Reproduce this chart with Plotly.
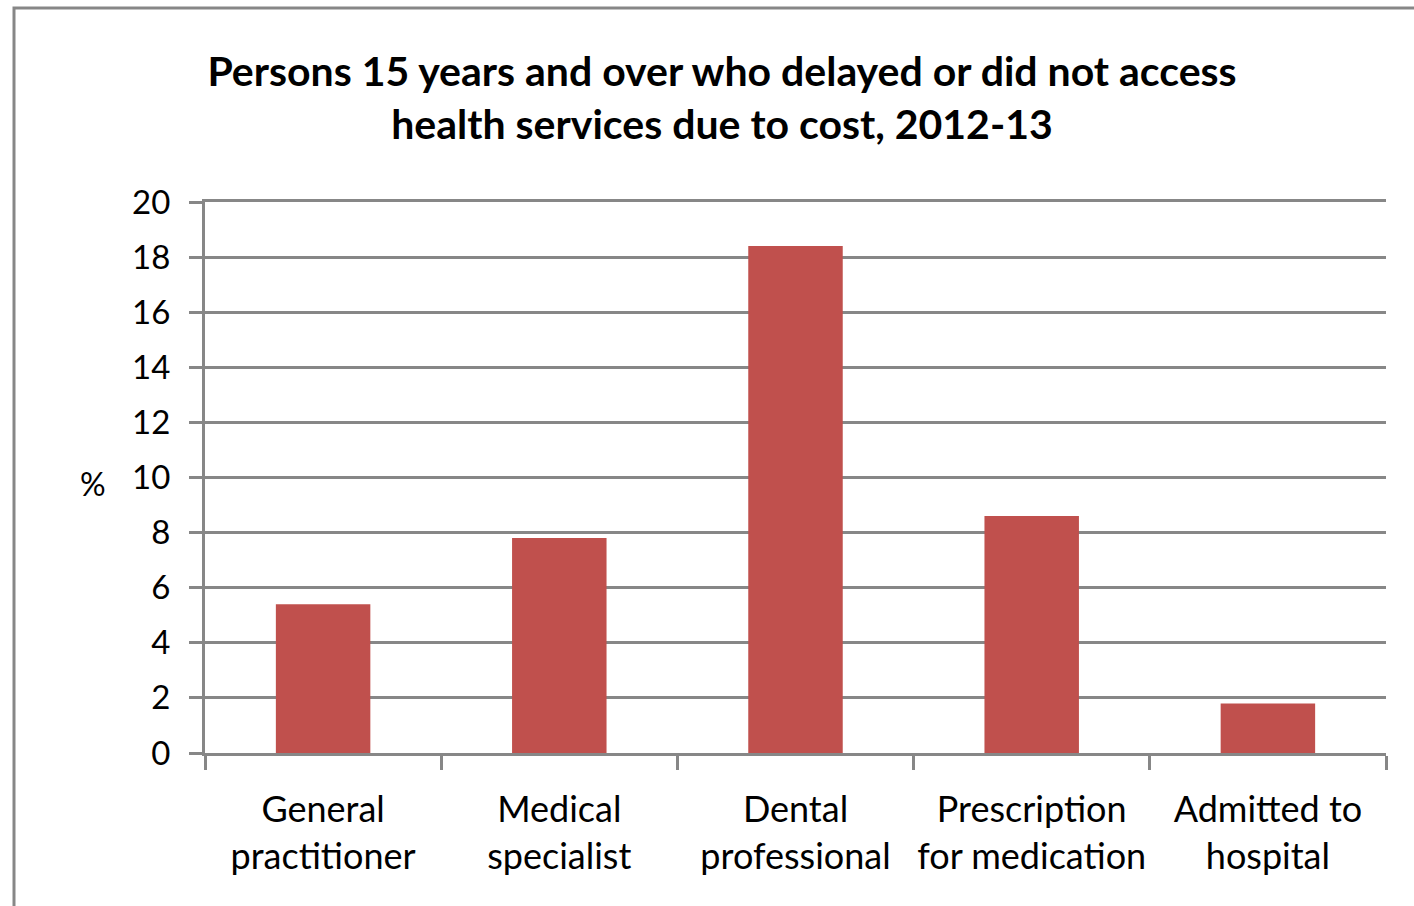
import plotly.graph_objects as go

# Share of persons aged 15+ who delayed or did not access a service due to cost (%)
categories = [
    "General<br>practitioner",
    "Medical<br>specialist",
    "Dental<br>professional",
    "Prescription<br>for medication",
    "Admitted to<br>hospital",
]
values = [5.4, 7.8, 18.4, 8.6, 1.8]
y_ticks = [0, 2, 4, 6, 8, 10, 12, 14, 16, 18, 20]

title_text = ("<b>Persons 15 years and over who delayed or did not access<br>"
              "health services due to cost, 2012-13</b>")

WIDTH, HEIGHT = 1414, 906
M_L, M_R, M_T, M_B = 205, 28, 202, 153
PLOT_W = WIDTH - M_L - M_R
PLOT_H = HEIGHT - M_T - M_B

GRID = "#878787"
BAR = "#C0504D"
FONT = "Lato"


def px_x(px):
    return (px - M_L) / PLOT_W


def px_y(py):
    return (HEIGHT - M_B - py) / PLOT_H


fig = go.Figure(
    go.Bar(
        x=categories,
        y=values,
        width=0.4,
        marker=dict(color=BAR, line=dict(width=0)),
        hoverinfo="x+y",
    )
)

fig.update_layout(
    width=WIDTH,
    height=HEIGHT,
    margin=dict(l=M_L, r=M_R, t=M_T, b=M_B, pad=0, autoexpand=False),
    paper_bgcolor="white",
    plot_bgcolor="white",
    showlegend=False,
    font=dict(family=FONT, color="black"),
    title=dict(
        text=title_text,
        font=dict(family=FONT, size=41, color="black"),
        x=722 / WIDTH,
        xanchor="center",
        y=1 - 86 / HEIGHT,
        yanchor="middle",
    ),
    xaxis=dict(
        range=[-0.5, 4.5],
        automargin=False,
        tickangle=0,
        showgrid=False,
        showline=True,
        mirror=True,
        linecolor=GRID,
        linewidth=3,
        ticks="outside",
        tickson="boundaries",
        ticklen=14,
        tickwidth=3,
        tickcolor=GRID,
        tickfont=dict(family=FONT, size=36, color="black"),
        ticklabelstandoff=23,
        zeroline=False,
    ),
    yaxis=dict(
        range=[0, 20],
        automargin=False,
        tickvals=y_ticks,
        showgrid=True,
        gridcolor=GRID,
        gridwidth=3,
        showline=True,
        linecolor=GRID,
        linewidth=3,
        ticks="outside",
        ticklen=13,
        tickwidth=3,
        tickcolor=GRID,
        tickfont=dict(family=FONT, size=33, color="black"),
        ticklabelstandoff=12,
        zeroline=False,
    ),
    annotations=[
        dict(
            text="%",
            xref="paper",
            yref="paper",
            x=px_x(93),
            y=px_y(483),
            xanchor="center",
            yanchor="middle",
            showarrow=False,
            font=dict(family=FONT, size=32, color="black"),
        )
    ],
    shapes=[
        dict(
            type="rect",
            xref="paper",
            yref="paper",
            x0=px_x(14),
            y0=px_y(8),
            x1=px_x(WIDTH + 20),
            y1=px_y(HEIGHT + 20),
            line=dict(color=GRID, width=3),
            fillcolor="rgba(0,0,0,0)",
            layer="below",
        )
    ],
)

fig.write_html("out.html")
